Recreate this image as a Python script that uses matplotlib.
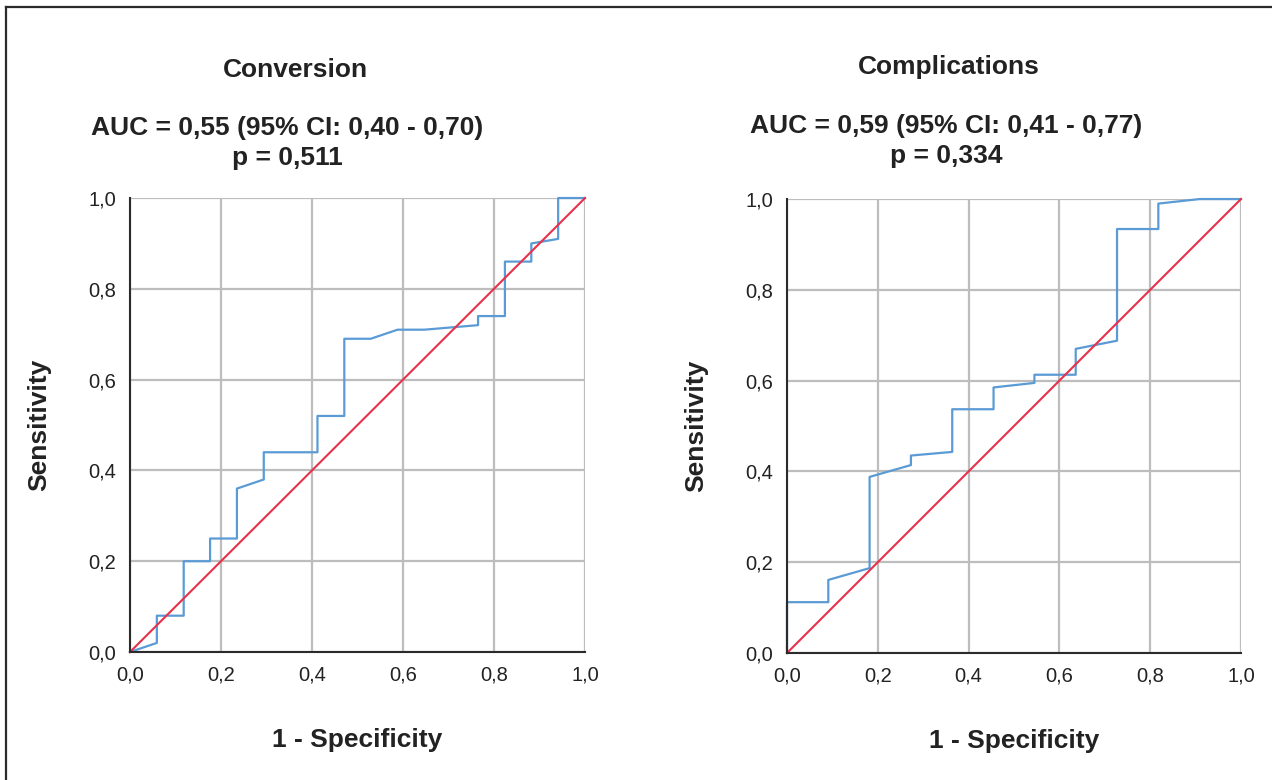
import matplotlib
matplotlib.use("Agg")
import matplotlib.pyplot as plt
from matplotlib.lines import Line2D
from matplotlib.ticker import FuncFormatter

plt.rcParams['font.family'] = ['Liberation Sans', 'DejaVu Sans']

# ROC curve for conversion
conv_fpr = [0, 0.059, 0.059, 0.118, 0.118, 0.176, 0.176, 0.235, 0.235, 0.294, 0.294,
            0.412, 0.412, 0.471, 0.471, 0.529, 0.588, 0.647, 0.765, 0.765, 0.824,
            0.824, 0.882, 0.882, 0.941, 0.941, 1.0]
conv_tpr = [0, 0.02, 0.08, 0.08, 0.20, 0.20, 0.25, 0.25, 0.36, 0.38, 0.44,
            0.44, 0.52, 0.52, 0.69, 0.69, 0.71, 0.71, 0.72, 0.74, 0.74,
            0.86, 0.86, 0.90, 0.91, 1.0, 1.0]

# ROC curve for complications
comp_fpr = [0, 0, 0.091, 0.091, 0.182, 0.182, 0.273, 0.273, 0.364, 0.364, 0.455,
            0.455, 0.545, 0.545, 0.636, 0.636, 0.727, 0.727, 0.818, 0.818, 0.909, 1.0]
comp_tpr = [0, 0.112, 0.112, 0.161, 0.187, 0.388, 0.414, 0.435, 0.443, 0.537, 0.537,
            0.585, 0.595, 0.613, 0.613, 0.67, 0.688, 0.934, 0.934, 0.99, 1.0, 1.0]

titles = ['Conversion', 'Complications']
stats = ['AUC = 0,55 (95% CI: 0,40 - 0,70)\np = 0,511',
         'AUC = 0,59 (95% CI: 0,41 - 0,77)\np = 0,334']
ticks = [0, 0.2, 0.4, 0.6, 0.8, 1.0]

BLUE = '#5B9BD5'
RED = '#E8304A'
GRID = '#BDBDBD'
DARK = '#2B2B2B'

fig = plt.figure(figsize=(12.72, 7.80), dpi=100)
axes = [fig.add_axes([0.1022, 0.1641, 0.3577, 0.582]),
        fig.add_axes([0.6187, 0.1628, 0.3569, 0.582])]

comma = FuncFormatter(lambda v, p: f'{v:.1f}'.replace('.', ','))

for ax, fpr, tpr in zip(axes, [conv_fpr, comp_fpr], [conv_tpr, comp_tpr]):
    ax.plot(fpr, tpr, color=BLUE, lw=1.6, zorder=3, clip_on=False)
    ax.plot([0, 1], [0, 1], color=RED, lw=1.5, zorder=4, clip_on=False)
    ax.set_xlim(0, 1)
    ax.set_ylim(0, 1)
    ax.set_xticks(ticks)
    ax.set_yticks(ticks)
    ax.xaxis.set_major_formatter(comma)
    ax.yaxis.set_major_formatter(comma)
    ax.grid(True, color=GRID, lw=1.6, zorder=0)
    ax.set_axisbelow(True)
    for s in ['top', 'right']:
        ax.spines[s].set_visible(False)
    for s in ['left', 'bottom']:
        ax.spines[s].set_color(DARK)
        ax.spines[s].set_linewidth(1.5)
        ax.spines[s].set_zorder(5)
    ax.tick_params(length=0, labelsize=14.5, colors='#222222')
    ax.tick_params(axis='x', pad=10)
    ax.tick_params(axis='y', pad=10)
    ax.set_xlabel('1 - Specificity', fontsize=19, fontweight='bold',
                  color='#222222', labelpad=31)
    ax.set_ylabel('Sensitivity', fontsize=19, fontweight='bold',
                  color='#222222', labelpad=27)

# titles and stats above each panel
fig.text(295 / 1272, 1 - 70 / 780, titles[0], ha='center', va='center',
         fontsize=19, fontweight='bold', color='#222222')
fig.text(949 / 1272, 1 - 67 / 780, titles[1], ha='center', va='center',
         fontsize=19, fontweight='bold', color='#222222')
fig.text(287 / 1272, 1 - 143 / 780, stats[0], ha='center', va='center',
         fontsize=19, fontweight='bold', color='#222222', linespacing=1.27)
fig.text(946 / 1272, 1 - 141 / 780, stats[1], ha='center', va='center',
         fontsize=19, fontweight='bold', color='#222222', linespacing=1.27)

# frame lines on left and top
fig.add_artist(Line2D([6 / 1272, 6 / 1272], [0, 1 - 7 / 780],
                      transform=fig.transFigure, color=DARK, lw=1.6))
fig.add_artist(Line2D([6 / 1272, 1], [1 - 7 / 780, 1 - 7 / 780],
                      transform=fig.transFigure, color=DARK, lw=1.6))

fig.savefig('out.png', dpi=100, facecolor='white')
